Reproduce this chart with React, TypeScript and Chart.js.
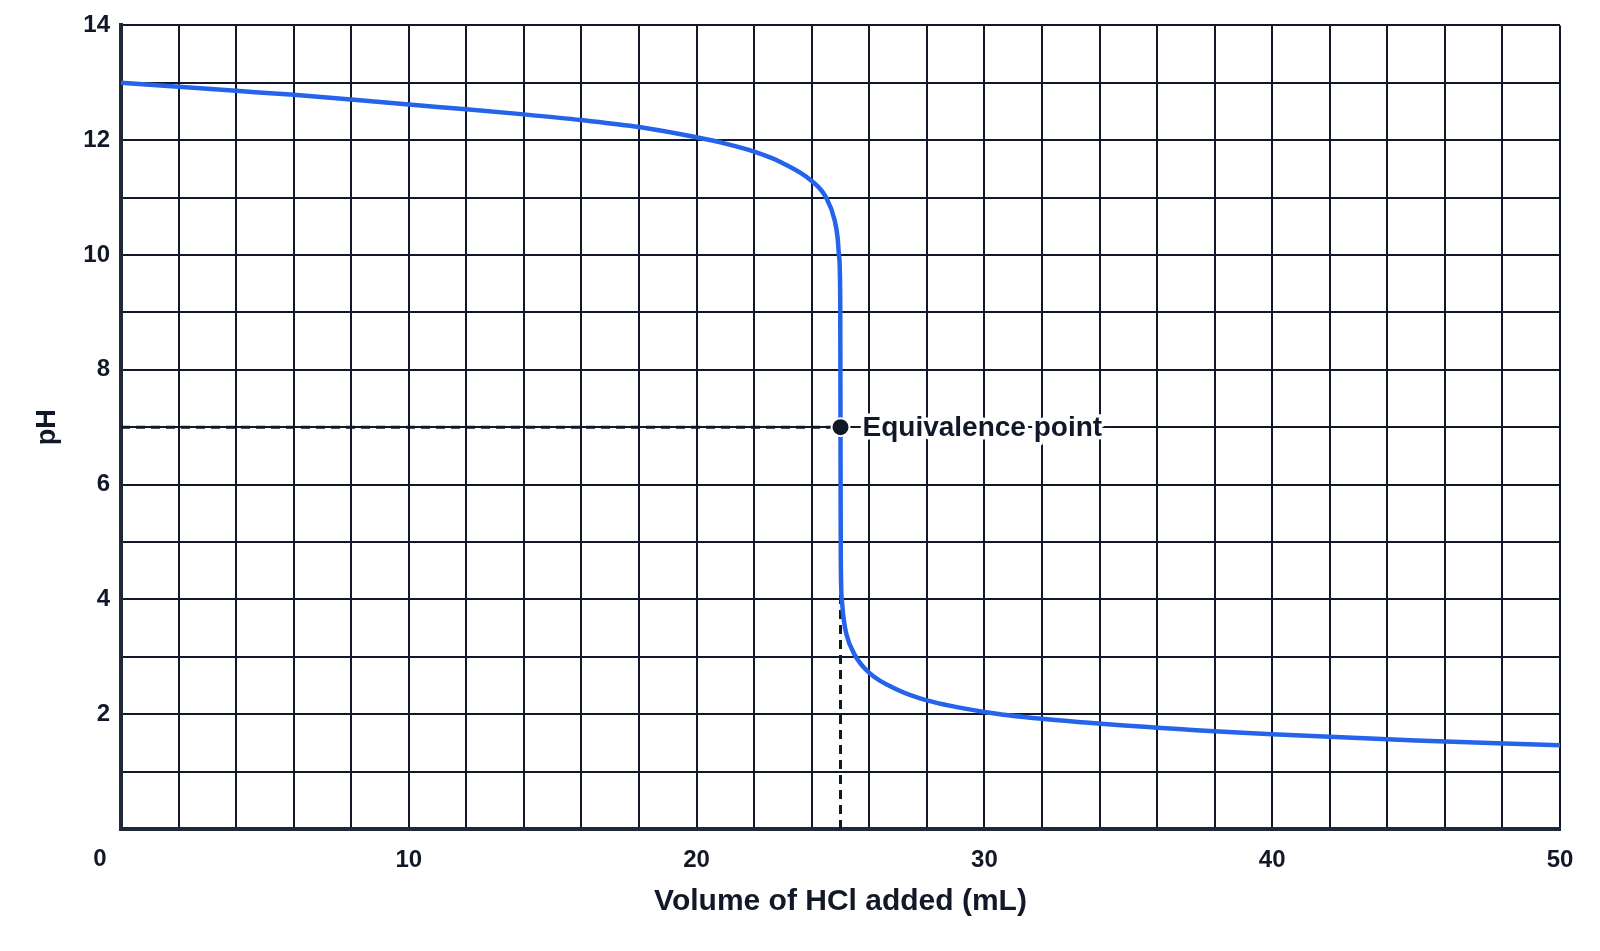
import React, { useEffect, useRef } from "react";
import { Chart, registerables, Plugin } from "chart.js";

Chart.register(...registerables);

// ── Data ─────────────────────────────────────────────────────
const volumes = [0, 2, 4, 6, 8, 10, 12, 14, 16, 18, 20, 21, 22, 23, 24, 24.5, 24.8, 24.9, 24.95, 24.99, 25, 25.01, 25.05, 25.1, 25.2, 25.5, 26, 27, 28, 30, 32, 35, 40, 45, 50];
const phValues = [13.0, 12.93, 12.86, 12.79, 12.71, 12.62, 12.54, 12.45, 12.35, 12.23, 12.05, 11.94, 11.8, 11.6, 11.29, 11.0, 10.6, 10.3, 9.98, 9.3, 7.0, 4.7, 3.97, 3.7, 3.4, 3.03, 2.72, 2.42, 2.24, 2.04, 1.92, 1.8, 1.65, 1.54, 1.46];
const xLabelTicks = [10, 20, 30, 40, 50];
const yLabelTicks = [2, 4, 6, 8, 10, 12, 14];
const eqVolume = 25;
const eqPH = 7;
const eqLabel = "Equivalence point";

const FONT = "'Liberation Sans', Arial, sans-serif";
const INK = "#111827";

// halo-label for the equivalence point + the offset "0" under the origin
const annotations: Plugin<"line"> = {
  id: "annotations",
  afterDatasetsDraw(chart) {
    const { ctx, scales } = chart;
    const px = scales.x.getPixelForValue(eqVolume);
    const py = scales.y.getPixelForValue(eqPH);
    ctx.save();
    ctx.font = `bold 28px ${FONT}`;
    ctx.textBaseline = "middle";
    ctx.textAlign = "left";
    ctx.lineJoin = "round";
    ctx.strokeStyle = "#ffffff";
    ctx.lineWidth = 7;
    ctx.strokeText(eqLabel, px + 22, py + 1);
    ctx.fillStyle = INK;
    ctx.fillText(eqLabel, px + 22, py + 1);

    ctx.font = `bold 24px ${FONT}`;
    ctx.textAlign = "center";
    ctx.textBaseline = "top";
    ctx.fillText("0", scales.x.getPixelForValue(0) - 21, scales.x.top + 18);
    ctx.restore();
  },
};

const TitrationChart: React.FC = () => {
  const ref = useRef<HTMLCanvasElement>(null);
  const chart = useRef<Chart | null>(null);

  useEffect(() => {
    if (!ref.current) return;
    chart.current?.destroy();
    chart.current = new Chart(ref.current, {
      type: "line",
      data: {
        datasets: [
          {
            label: "equivalence",
            data: [{ x: eqVolume, y: eqPH }],
            pointRadius: 9, pointBackgroundColor: INK, pointBorderColor: "#ffffff", pointBorderWidth: 2,
            showLine: false, order: 0,
          },
          {
            label: "pH",
            data: volumes.map((v, i) => ({ x: v, y: phValues[i] })),
            borderColor: "#2563eb", borderWidth: 4.5, pointRadius: 0,
            cubicInterpolationMode: "monotone", order: 1,
          },
          {
            label: "h-guide",
            data: [{ x: 0, y: eqPH }, { x: eqVolume, y: eqPH }],
            borderColor: INK, borderWidth: 3, borderDash: [9, 6], pointRadius: 0, order: 2,
          },
          {
            label: "v-guide",
            data: [{ x: eqVolume, y: 0 }, { x: eqVolume, y: eqPH }],
            borderColor: INK, borderWidth: 3, borderDash: [9, 6], pointRadius: 0, order: 2,
          },
        ],
      },
      options: {
        responsive: false,
        animation: false,
        layout: { padding: { top: 24, right: 40, left: 0, bottom: 0 } },
        plugins: { legend: { display: false }, tooltip: { enabled: false } },
        scales: {
          x: {
            type: "linear", min: 0, max: 50,
            afterFit: s => { s.height = 122; },
            ticks: {
              stepSize: 2, color: INK, padding: 17, maxRotation: 0, autoSkip: false,
              font: { family: FONT, size: 24, weight: "bold" },
              callback: v => (xLabelTicks.includes(Number(v)) ? String(v) : ""),
            },
            grid: { color: INK, lineWidth: 2, drawTicks: false },
            border: { color: "#1f2937", width: 4 },
            title: {
              display: true, text: "Volume of HCl added (mL)", color: INK,
              font: { family: FONT, size: 30, weight: "bold" }, padding: { top: 0, bottom: 31 },
            },
          },
          y: {
            type: "linear", min: 0, max: 14,
            afterFit: s => { s.width = 121; },
            ticks: {
              stepSize: 1, color: INK, padding: 11, autoSkip: false,
              font: { family: FONT, size: 24, weight: "bold" },
              callback: v => (yLabelTicks.includes(Number(v)) ? String(v) : ""),
            },
            grid: { color: INK, lineWidth: 2, drawTicks: false },
            border: { color: "#1f2937", width: 4 },
            title: {
              display: true, text: "pH", color: INK,
              font: { family: FONT, size: 27, weight: "bold" }, padding: { top: 31, bottom: 0 },
            },
          },
        },
      },
      plugins: [annotations],
    });
    return () => chart.current?.destroy();
  }, []);

  return <canvas ref={ref} width={1600} height={951} style={{ display: "block" }} />;
};

export default function App() {
  return (
    <div style={{ position: "fixed", left: 0, top: 0, width: 1600, height: 951, background: "#ffffff" }}>
      <TitrationChart />
    </div>
  );
}
